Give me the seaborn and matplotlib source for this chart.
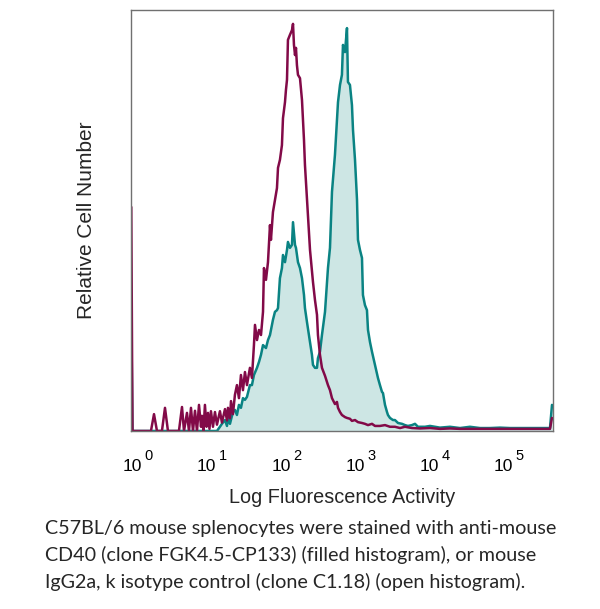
import pandas as pd
import matplotlib
matplotlib.use("Agg")
import matplotlib.pyplot as plt
import seaborn as sns
import numpy as np
from matplotlib.ticker import NullLocator

# histogram values: x = log10 fluorescence, y = relative count (max 100)
isotype_log = [-0.154, -0.138, 0.111, 0.152, 0.192, 0.259, 0.300, 0.340, 0.488, 0.529,
               0.556, 0.596, 0.623, 0.650, 0.677, 0.704, 0.731, 0.758, 0.785, 0.798,
               0.818, 0.838, 0.859, 0.879, 0.899, 0.919, 0.946, 0.973, 1.000, 1.040,
               1.067, 1.108, 1.135, 1.148, 1.175, 1.189, 1.215, 1.242, 1.269, 1.296,
               1.323, 1.350, 1.377, 1.404, 1.444, 1.471, 1.498, 1.512, 1.539, 1.566,
               1.593, 1.620, 1.633, 1.660, 1.687, 1.714, 1.727, 1.754, 1.781, 1.808,
               1.822, 1.848, 1.875, 1.889, 1.916, 1.929, 1.943, 1.956, 1.983, 2.010,
               2.024, 2.037, 2.051, 2.064, 2.077, 2.091, 2.118, 2.145, 2.172, 2.185,
               2.212, 2.239, 2.253, 2.279, 2.293, 2.320, 2.347, 2.360, 2.387, 2.414,
               2.455, 2.495, 2.522, 2.549, 2.589, 2.616, 2.630, 2.657, 2.683, 2.724,
               2.751, 2.791, 2.818, 2.859, 2.899, 2.953, 2.993, 3.034, 3.088, 3.128,
               3.195, 3.263, 3.330, 3.397, 3.465, 3.532, 3.626, 3.734, 3.869, 4.003,
               4.138, 4.273, 4.407, 4.542, 4.677, 4.811, 4.946, 5.081, 5.215, 5.350,
               5.485, 5.512]
isotype_count = [53.2, 0, 0, 4.0, 0, 0, 5.5, 0, 0, 5.7,
                 0, 4.3, 0, 5.5, 0, 4.8, 0, 6.2, 1.0, 3.6,
                 0, 6.2, 1.0, 4.3, 0.5, 4.7, 1.0, 4.5, 1.5, 4.7,
                 2.0, 5.2, 2.5, 5.5, 3.0, 7.1, 4.0, 8.6, 10.9, 7.8,
                 13.3, 9.7, 14.0, 10.9, 15.0, 12.6, 20.4, 25.2, 21.6, 24.0,
                 22.8, 28.3, 38.7, 35.9, 40.1, 48.9, 45.4, 52.0, 54.9, 57.7,
                 62.5, 64.4, 67.9, 74.3, 78.1, 81.0, 83.4, 92.9, 94.1, 95.2,
                 96.7, 91.7, 89.3, 91.0, 86.9, 84.6, 83.8, 78.6, 69.1, 63.2,
                 55.3, 47.7, 43.0, 38.2, 35.4, 31.1, 27.6, 22.8, 18.1, 15.0,
                 13.1, 10.9, 9.7, 7.8, 6.4, 6.9, 5.5, 4.5, 3.8, 3.3,
                 3.1, 2.9, 2.4, 2.6, 2.1, 1.9, 1.7, 1.4, 1.7, 1.2,
                 1.2, 1.4, 1.0, 1.0, 0.7, 1.0, 0.7, 0.6, 0.7, 0.5,
                 0.6, 0.5, 0.5, 0.5, 0.5, 0.5, 0.5, 0.5, 0.5, 0.5,
                 0.5, 3.1]

cd40_log = [-0.154, -0.138, 1.000, 1.040, 1.067, 1.108, 1.135, 1.148, 1.175, 1.215,
            1.242, 1.269, 1.296, 1.323, 1.350, 1.377, 1.404, 1.444, 1.471, 1.498,
            1.539, 1.566, 1.593, 1.620, 1.660, 1.687, 1.714, 1.754, 1.781, 1.808,
            1.822, 1.848, 1.875, 1.889, 1.916, 1.943, 1.956, 1.983, 2.010, 2.024,
            2.051, 2.064, 2.091, 2.118, 2.145, 2.172, 2.185, 2.212, 2.253, 2.279,
            2.293, 2.320, 2.347, 2.360, 2.387, 2.414, 2.455, 2.495, 2.522, 2.549,
            2.589, 2.630, 2.657, 2.683, 2.697, 2.724, 2.751, 2.764, 2.791, 2.818,
            2.832, 2.859, 2.886, 2.899, 2.926, 2.953, 2.966, 2.993, 3.020, 3.034,
            3.061, 3.088, 3.128, 3.168, 3.195, 3.222, 3.236, 3.263, 3.290, 3.303,
            3.330, 3.370, 3.397, 3.438, 3.492, 3.532, 3.572, 3.626, 3.667, 3.707,
            3.801, 3.869, 4.003, 4.138, 4.273, 4.407, 4.542, 4.677, 4.811, 4.946,
            5.081, 5.215, 5.350, 5.485, 5.512]
cd40_count = [27.6, 0, 0, 1.0, 1.7, 2.6, 1.2, 3.1, 1.7, 4.5,
              5.0, 3.8, 6.2, 5.5, 7.8, 7.4, 8.1, 10.9, 10.9, 13.3,
              15.0, 16.4, 18.1, 20.4, 19.7, 21.6, 22.8, 26.4, 28.3, 28.7,
              29.2, 36.3, 38.7, 41.8, 40.1, 43.0, 44.9, 43.5, 44.2, 49.6,
              44.2, 43.5, 40.1, 38.7, 36.3, 32.3, 29.2, 25.9, 21.1, 18.1,
              15.7, 15.0, 15.0, 17.3, 18.8, 22.8, 28.3, 38.7, 43.5, 56.8,
              65.6, 78.1, 82.2, 84.6, 91.7, 90.0, 95.7, 82.9, 82.2, 77.4,
              71.5, 64.4, 54.9, 45.4, 43.0, 41.1, 32.3, 29.9, 28.7, 24.0,
              21.1, 18.8, 15.7, 12.6, 10.9, 9.3, 9.0, 6.2, 4.5, 3.8,
              3.1, 2.6, 2.6, 1.9, 1.7, 1.4, 1.2, 1.4, 1.7, 1.0,
              1.0, 1.2, 0.8, 1.0, 0.7, 1.0, 0.7, 0.7, 0.8, 0.7,
              0.7, 0.7, 0.7, 0.7, 6.2]

decades = [0, 1, 2, 3, 4, 5]
caption = ["C57BL/6 mouse splenocytes were stained with anti-mouse",
           "CD40 (clone FGK4.5-CP133) (filled histogram), or mouse",
           "IgG2a, k isotype control (clone C1.18) (open histogram)."]

iso_df = pd.DataFrame({"fl": 10 ** np.array(isotype_log), "count": isotype_count})
cd40_df = pd.DataFrame({"fl": 10 ** np.array(cd40_log), "count": cd40_count})

sns.set_style("white")
plt.rcParams["font.family"] = ["Liberation Sans", "DejaVu Sans"]

fig = plt.figure(figsize=(6, 6.09), dpi=100)
ax = fig.add_axes([0.2183, 0.2923, 0.7033, 0.6913])

teal = "#0a8383"
magenta = "#820a48"

ax.fill_between(cd40_df["fl"], 0, cd40_df["count"], color="#cde6e4", lw=0)
sns.lineplot(data=cd40_df, x="fl", y="count", sort=False, estimator=None,
             color=teal, lw=1.8, ax=ax)
sns.lineplot(data=iso_df, x="fl", y="count", sort=False, estimator=None,
             color=magenta, lw=1.8, ax=ax)

ax.set_xscale("log")
ax.set_xlim(10 ** -0.158, 10 ** 5.525)
ax.set_ylim(0, 100)
ax.set_xticks([10 ** d for d in decades])
ax.set_xticklabels([])
ax.xaxis.set_minor_locator(NullLocator())
ax.set_yticks([])
ax.tick_params(axis="x", length=0)

# decade labels: "10" plus a large raised exponent, as in the original
for d in decades:
    ax.annotate("10", xy=(10 ** d, 0), xycoords=("data", "axes fraction"),
                xytext=(-0.5, -28.6), textcoords="offset points",
                ha="right", va="baseline", fontsize=12.5, color="black")
    ax.annotate(str(d), xy=(10 ** d, 0), xycoords=("data", "axes fraction"),
                xytext=(1.2, -21.0), textcoords="offset points",
                ha="left", va="baseline", fontsize=10.5, color="black")

for s in ax.spines.values():
    s.set_color("#707070")
    s.set_linewidth(1)

ax.set_xlabel("Log Fluorescence Activity", fontsize=14.3)
ax.xaxis.set_label_coords(0.5, -(503 - 431) / 421)
ax.xaxis.label.set_va("baseline")
ax.set_ylabel("Relative Cell Number", fontsize=15)
ax.yaxis.set_label_coords((92 - 131) / 422, 0.5)
ax.yaxis.label.set_va("baseline")

for i, line in enumerate(caption):
    fig.text(45 / 600, 1 - (534 + 27 * i) / 609, line, fontsize=14.2,
             family=["Lato", "DejaVu Sans"], ha="left", va="baseline")

fig.savefig("out.png", dpi=100)
